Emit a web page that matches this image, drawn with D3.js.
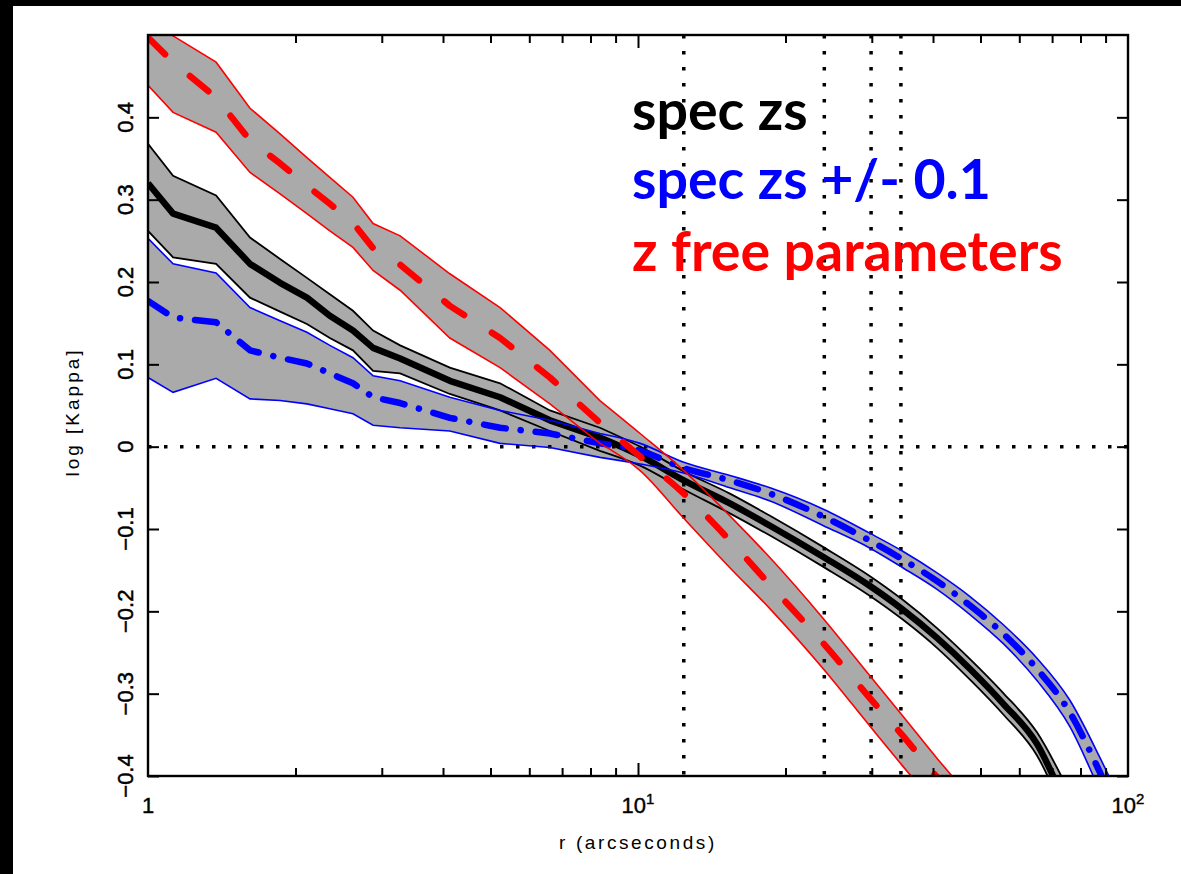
<!DOCTYPE html>
<html>
<head>
<meta charset="utf-8">
<script src="https://cdn.jsdelivr.net/npm/d3@7"></script>
<style>
body { margin: 0; background: #000; }
svg { display: block; }
</style>
</head>
<body>
<script>
// radius grid (arcseconds) shared by every profile
var radii = [1, 1.125, 1.377, 1.615, 1.86, 2.11, 2.35, 2.62, 2.88, 3.27, 4.13, 5.23, 6.61, 8.36,
             10.1, 12.4, 15.4, 18.6, 23.9, 29.7, 34.7, 40.7, 47.6, 55.6, 65.2, 76.1, 87.7, 100];

// spec zs (black)
var specMid = [0.320, 0.283, 0.266, 0.222, 0.199, 0.181, 0.159, 0.141, 0.120, 0.107, 0.080, 0.060, 0.032, 0.011,
               -0.011, -0.041, -0.069, -0.096, -0.134, -0.169, -0.198, -0.232, -0.270, -0.312, -0.361, -0.445, -0.521, -0.594];
var specHi  = [0.368, 0.329, 0.305, 0.254, 0.228, 0.205, 0.185, 0.165, 0.141, 0.123, 0.096, 0.077, 0.044, 0.023,
               0.000, -0.030, -0.057, -0.084, -0.122, -0.157, -0.186, -0.220, -0.258, -0.299, -0.347, -0.420, -0.491, -0.564];
var specLo  = [0.262, 0.230, 0.222, 0.181, 0.164, 0.149, 0.132, 0.117, 0.092, 0.089, 0.064, 0.044, 0.019, -0.005,
               -0.023, -0.052, -0.081, -0.108, -0.146, -0.181, -0.210, -0.244, -0.283, -0.325, -0.375, -0.460, -0.540, -0.613];

// spec zs +/- 0.1 (blue)
var shiftMid = [0.177, 0.157, 0.151, 0.117, 0.108, 0.101, 0.089, 0.077, 0.060, 0.053, 0.035, 0.023, 0.016, 0.004,
                -0.005, -0.026, -0.041, -0.057, -0.085, -0.114, -0.137, -0.163, -0.193, -0.227, -0.270, -0.323, -0.396, -0.473];
var shiftHi  = [0.253, 0.222, 0.211, 0.169, 0.153, 0.139, 0.123, 0.108, 0.086, 0.080, 0.060, 0.044, 0.032, 0.016,
                0.004, -0.019, -0.035, -0.050, -0.076, -0.105, -0.127, -0.153, -0.182, -0.216, -0.257, -0.308, -0.378, -0.450];
var shiftLo  = [0.084, 0.066, 0.083, 0.058, 0.056, 0.052, 0.046, 0.040, 0.026, 0.023, 0.019, 0.004, -0.001, -0.013,
                -0.021, -0.032, -0.050, -0.066, -0.096, -0.123, -0.147, -0.173, -0.204, -0.239, -0.284, -0.340, -0.418, -0.490];

// z free parameters (red)
var freeMid = [0.497, 0.467, 0.424, 0.372, 0.344, 0.317, 0.295, 0.272, 0.241, 0.221, 0.171, 0.132, 0.084, 0.029,
               -0.012, -0.057, -0.114, -0.168, -0.239, -0.305, -0.351, -0.401, -0.448, -0.497, -0.546, -0.595, -0.640, -0.680];
var freeHi  = [0.520, 0.499, 0.467, 0.411, 0.380, 0.351, 0.327, 0.303, 0.271, 0.256, 0.210, 0.169, 0.117, 0.056,
               0.016, -0.029, -0.084, -0.135, -0.209, -0.278, -0.327, -0.378, -0.426, -0.476, -0.527, -0.576, -0.621, -0.662];
var freeLo  = [0.439, 0.406, 0.382, 0.333, 0.307, 0.283, 0.262, 0.242, 0.214, 0.190, 0.132, 0.096, 0.052, 0.004,
               -0.029, -0.087, -0.147, -0.197, -0.270, -0.339, -0.388, -0.437, -0.486, -0.535, -0.583, -0.632, -0.676, -0.717];

var markerRadii = [12.4, 24, 29.9, 34.4];   // dotted verticals
var yTicks = [-0.4, -0.3, -0.2, -0.1, 0, 0.1, 0.2, 0.3, 0.4];
var xMinor = [2, 3, 4, 5, 6, 7, 8, 9, 20, 30, 40, 50, 60, 70, 80, 90];
var xMajor = [1, 10, 100];
var xMajorExp = ["", "1", "2"];

var legendLabels = ["spec zs", "spec zs +/- 0.1", "z free parameters"];
var legendColors = ["#000000", "#0000ff", "#ff0000"];

var W = 1181, H = 874;
var plot = {left: 148, right: 1128, top: 35, bottom: 776};
var SPLIT = 13;   // linear (noisy inner profile) up to this index, smooth after

var svg = d3.select("body").append("svg").attr("width", W).attr("height", H);
svg.append("rect").attr("x", 13).attr("y", 6).attr("width", W - 13).attr("height", H - 6).attr("fill", "#fff");

var x = d3.scaleLog().domain([1, 100]).range([plot.left, plot.right]);
var y = d3.scaleLinear().domain([-0.4, 0.5]).range([plot.bottom, plot.top]);

svg.append("clipPath").attr("id", "clip").append("rect")
   .attr("x", plot.left).attr("y", plot.top)
   .attr("width", plot.right - plot.left).attr("height", plot.bottom - plot.top);

var inner = svg.append("g").attr("clip-path", "url(#clip)");

var series = [
  {mid: specMid,  hi: specHi,  lo: specLo,  color: "#000000", dash: null,          thin: 1.8},
  {mid: shiftMid, hi: shiftHi, lo: shiftLo, color: "#0000ff", dash: "22 15 0.1 15", thin: 1.6},
  {mid: freeMid,  hi: freeHi,  lo: freeLo,  color: "#ff0000", dash: "24 33",        thin: 1.6}
];

function pts(arr){ return arr.map(function(v, i){ return [x(radii[i]), y(v)]; }); }

var lineLin = d3.line();
var lineMono = d3.line().curve(d3.curveMonotoneX);

function profilePath(arr){
  var p = pts(arr);
  return lineLin(p.slice(0, SPLIT + 1)) + lineMono(p.slice(SPLIT)).replace(/^M/, "L");
}

function bandPath(lo, hi){
  var top = pts(hi), bot = pts(lo).reverse();
  var n = bot.length, k = n - 1 - SPLIT;
  var d = lineLin(top.slice(0, SPLIT + 1)) + lineMono(top.slice(SPLIT)).replace(/^M/, "L");
  d += lineMono(bot.slice(0, k + 1)).replace(/^M/, "L") + lineLin(bot.slice(k)).replace(/^M/, "L");
  return d + "Z";
}

// grey bands first
series.forEach(function(s){
  inner.append("path").attr("d", bandPath(s.lo, s.hi)).attr("fill", "#aaaaaa");
});

// dotted reference lines
inner.append("line")
  .attr("x1", plot.left).attr("x2", plot.right)
  .attr("y1", y(0)).attr("y2", y(0))
  .attr("stroke", "#000").attr("stroke-width", 3.5).attr("stroke-dasharray", "3.5 12.5");

inner.selectAll(".vmark").data(markerRadii).enter().append("line")
  .attr("class", "vmark")
  .attr("x1", function(d){ return x(d); }).attr("x2", function(d){ return x(d); })
  .attr("y1", plot.top).attr("y2", plot.bottom)
  .attr("stroke", "#000").attr("stroke-width", 3.5).attr("stroke-dasharray", "3.5 12.5");

// band edges and central profiles
series.forEach(function(s){
  [s.hi, s.lo].forEach(function(arr){
    inner.append("path").attr("d", profilePath(arr))
      .attr("fill", "none").attr("stroke", s.color).attr("stroke-width", s.thin);
  });
  var p = inner.append("path").attr("d", profilePath(s.mid))
    .attr("fill", "none").attr("stroke", s.color).attr("stroke-width", 6.5)
    .attr("stroke-linejoin", "round");
  if (s.dash) p.attr("stroke-dasharray", s.dash).attr("stroke-linecap", "round");
});

// frame
svg.append("rect")
  .attr("x", plot.left).attr("y", plot.top)
  .attr("width", plot.right - plot.left).attr("height", plot.bottom - plot.top)
  .attr("fill", "none").attr("stroke", "#000").attr("stroke-width", 2.4);

// ticks (inward, all four sides)
function noDomain(g){ g.select(".domain").remove(); g.selectAll(".tick line").attr("stroke", "#000").attr("stroke-width", 2); }

svg.append("g").attr("transform", "translate(" + plot.left + ",0)")
  .call(d3.axisLeft(y).tickValues(yTicks).tickSize(-11).tickFormat("")).call(noDomain);
svg.append("g").attr("transform", "translate(" + plot.right + ",0)")
  .call(d3.axisRight(y).tickValues(yTicks).tickSize(-11).tickFormat("")).call(noDomain);
svg.append("g").attr("transform", "translate(0," + plot.bottom + ")")
  .call(d3.axisBottom(x).tickValues(xMinor).tickSize(-8).tickFormat("")).call(noDomain);
svg.append("g").attr("transform", "translate(0," + plot.top + ")")
  .call(d3.axisTop(x).tickValues(xMinor).tickSize(-8).tickFormat("")).call(noDomain);
svg.append("g").attr("transform", "translate(0," + plot.bottom + ")")
  .call(d3.axisBottom(x).tickValues([10]).tickSize(-13).tickFormat("")).call(noDomain);
svg.append("g").attr("transform", "translate(0," + plot.top + ")")
  .call(d3.axisTop(x).tickValues([10]).tickSize(-13).tickFormat("")).call(noDomain);

var font = "'Liberation Sans', Arial, sans-serif";

// y tick labels (rotated)
svg.selectAll(".ylab").data(yTicks).enter().append("text")
  .attr("class", "ylab")
  .attr("transform", function(d){ return "translate(133," + y(d) + ") rotate(-90)"; })
  .attr("text-anchor", "middle")
  .attr("stroke", "#000").attr("stroke-width", 0.5)
  .style("font-family", font).style("font-size", "22px")
  .text(function(d){ return d === 0 ? "0" : (d < 0 ? "\u2212" : "") + Math.abs(d).toFixed(1); });

// x tick labels
xMajor.forEach(function(v, i){
  var t = svg.append("text")
    .attr("x", x(v)).attr("y", 813)
    .attr("text-anchor", "middle")
    .attr("stroke", "#000").attr("stroke-width", 0.4)
    .style("font-family", font).style("font-size", "22px");
  if (xMajorExp[i]) {
    t.append("tspan").text("10");
    t.append("tspan").attr("dy", -9).style("font-size", "15px").text(xMajorExp[i]);
  } else {
    t.text(String(v));
  }
});

// axis titles
svg.append("text")
  .attr("x", x(10)).attr("y", 849)
  .attr("text-anchor", "middle")
  .style("font-family", font).style("font-size", "19px").style("letter-spacing", "2.6px")
  .text("r (arcseconds)");

svg.append("text")
  .attr("transform", "translate(79," + 412 + ") rotate(-90)")
  .attr("text-anchor", "middle")
  .style("font-family", font).style("font-size", "19px").style("letter-spacing", "3px")
  .text("log [Kappa]");

// legend text
var legendY = [130, 199, 271];
var leg = svg.selectAll(".leg").data(legendLabels).enter().append("text")
  .attr("class", "leg")
  .attr("x", 632).attr("y", function(d, i){ return legendY[i]; })
  .attr("fill", function(d, i){ return legendColors[i]; })
  .style("font-family", "Lato, 'Open Sans', sans-serif").style("font-weight", "bold").style("font-size", "54px")
  .text(function(d){ return d; });

// fit legend width to the reference (last line ~431px wide)
var w3 = leg.nodes()[2].getComputedTextLength();
if (w3 > 0) leg.style("font-size", (54 * 431 / w3).toFixed(1) + "px");
</script>
</body>
</html>
